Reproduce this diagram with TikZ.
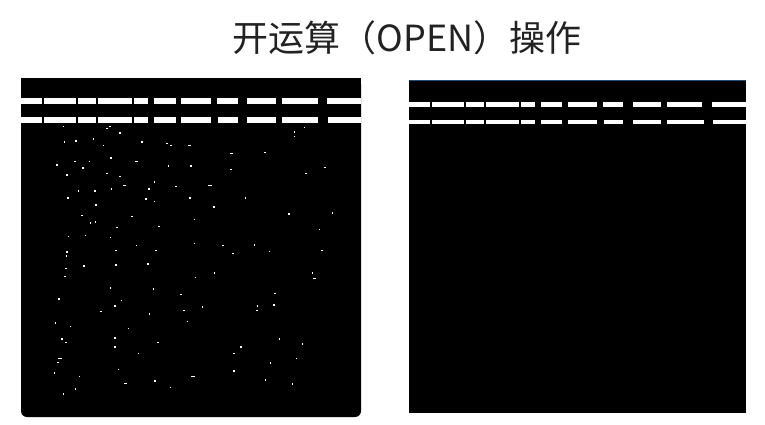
\documentclass[tikz,border=0pt]{standalone}
\usepackage{fontspec}
\newfontfamily\cjk{Noto Sans CJK SC}
\definecolor{titlegray}{HTML}{222222}
\definecolor{edgeblue}{HTML}{1F4E79}
\begin{document}
\begin{tikzpicture}[x=1pt,y=-1pt,
  paneldash/.style={fill=white},
  noisedot/.style={fill=white},
  titletext/.style={font=\cjk\fontsize{36}{40}\selectfont, text=titlegray, inner sep=0pt, anchor=base}]
\useasboundingbox[fill=white] (0,0) rectangle (765,424);
% title
\node[titletext] (title) at (407,51) {开运算（OPEN）操作};
% left panel (bottom corners rounded)
\fill[black, rounded corners=6pt] (21,78) rectangle (361,417);
\fill[black] (21,78) rectangle (361,200);
% left dashed lines
\foreach \a/\b in {21/42,44/76,78/96,98/132,134/148,154/176,181/211,217/238,247/276,282/318,327/361}
  \fill[paneldash] (\a,98) rectangle (\b,104);
\foreach \a/\b in {21/42,44/76,78/96,98/132,134/148,154/176,181/211,218/238,247/276,282/318,328/361}
  \fill[paneldash] (\a,117) rectangle (\b,123);
% noise
\foreach \x/\y in {63.3/126.3,106.7/128.3,110/126.3,120/132.7,64.3/142,76/140.7,93.3/138.7,103.3/145.3,142/142,166.7/143.3,171/145.3,56.7/164.7,74.7/161.3,89.3/161.3,110.7/158,168.3/166,191/166,82.7/168,106.7/173.3,67/175,120/176.3,154.3/182,148.7/188.7,176/186.3,78.3/191,94.7/191,111.3/188.7,68/197.7,146/198.7,154.3/201.3,190/197.7,96/204.7,81.7/215.3,132/216.3,90.3/222.7,95.3/221.7,
294.3/131.7,304.3/127.3,294.3/136.3,264.7/152.3,230.7/169.3,305.7/173.3,325/167.3,245.3/197.7,214/206.7,288.7/213.7,332.3/212.7,194.3/219.3,
68.3/236.3,85.3/235.3,110.3/237.3,117/227.3,159/226.3,136.3/245.3,155.7/250.3,116/250.3,67/251.7,66.3/255.7,83.7/266,115.7/264.7,147.7/263.7,66/268.3,64.7/276.3,110.3/287.7,153.3/289,180.7/294.3,59/299,121.3/300.3,115/305.7,101/311.3,149.3/313.7,184/310.3,187.3/321.5,
194.3/243.3,222.7/245.3,254.3/245,233/253.3,269.3/251.3,319.3/229.3,321.7/250.3,214.3/272.7,195.3/277.3,312.3/272.7,275/293.3,202.3/307,257.3/305.7,274/304.7,257/310.3,
55.3/323,70.3/326.3,128.3/328.3,62/338.7,66/342.3,115/337.7,115/347,158/342.3,138.3/353.3,57.7/362.3,54.3/373,118.3/369.3,79.3/376.3,155/380.7,170.3/387.3,75.3/388.7,63.3/394,
279.3/338.7,302.3/343.7,241/347,234/353.3,296.3/358.3,270.3/362.7,234/370.7,265.3/379.7,292.3/384}
  \fill[noisedot] (\x-0.8,\y-0.8) rectangle ++(1.6,1.6);
\foreach \x/\y in {189.3/145.3,124.3/185.3,210/185.3,231.3/153.3,314.3/278.3,60/358.3,125.3/383.3,193/376.3,136.7/161.3}
  \fill[noisedot] (\x-1.7,\y-0.7) rectangle ++(3.4,1.4);
% right panel
\fill[black] (409,80) rectangle (746,413);
\draw[edgeblue, line width=0.8pt] (409,80) -- (746,80);
\foreach \a/\b in {409/430,432/464,466/484,486/519,521/535,541/562,568/597,603/623,633/661,667/702,712/746}
  \fill[paneldash] (\a,102.3) rectangle (\b,106.7);
\foreach \a/\b in {409/430,432/464,466/484,486/519,521/535,541/562,568/597,604/623,633/661,667/704,713/746}
  \fill[paneldash] (\a,119.7) rectangle (\b,123.9);
\end{tikzpicture}
\end{document}
